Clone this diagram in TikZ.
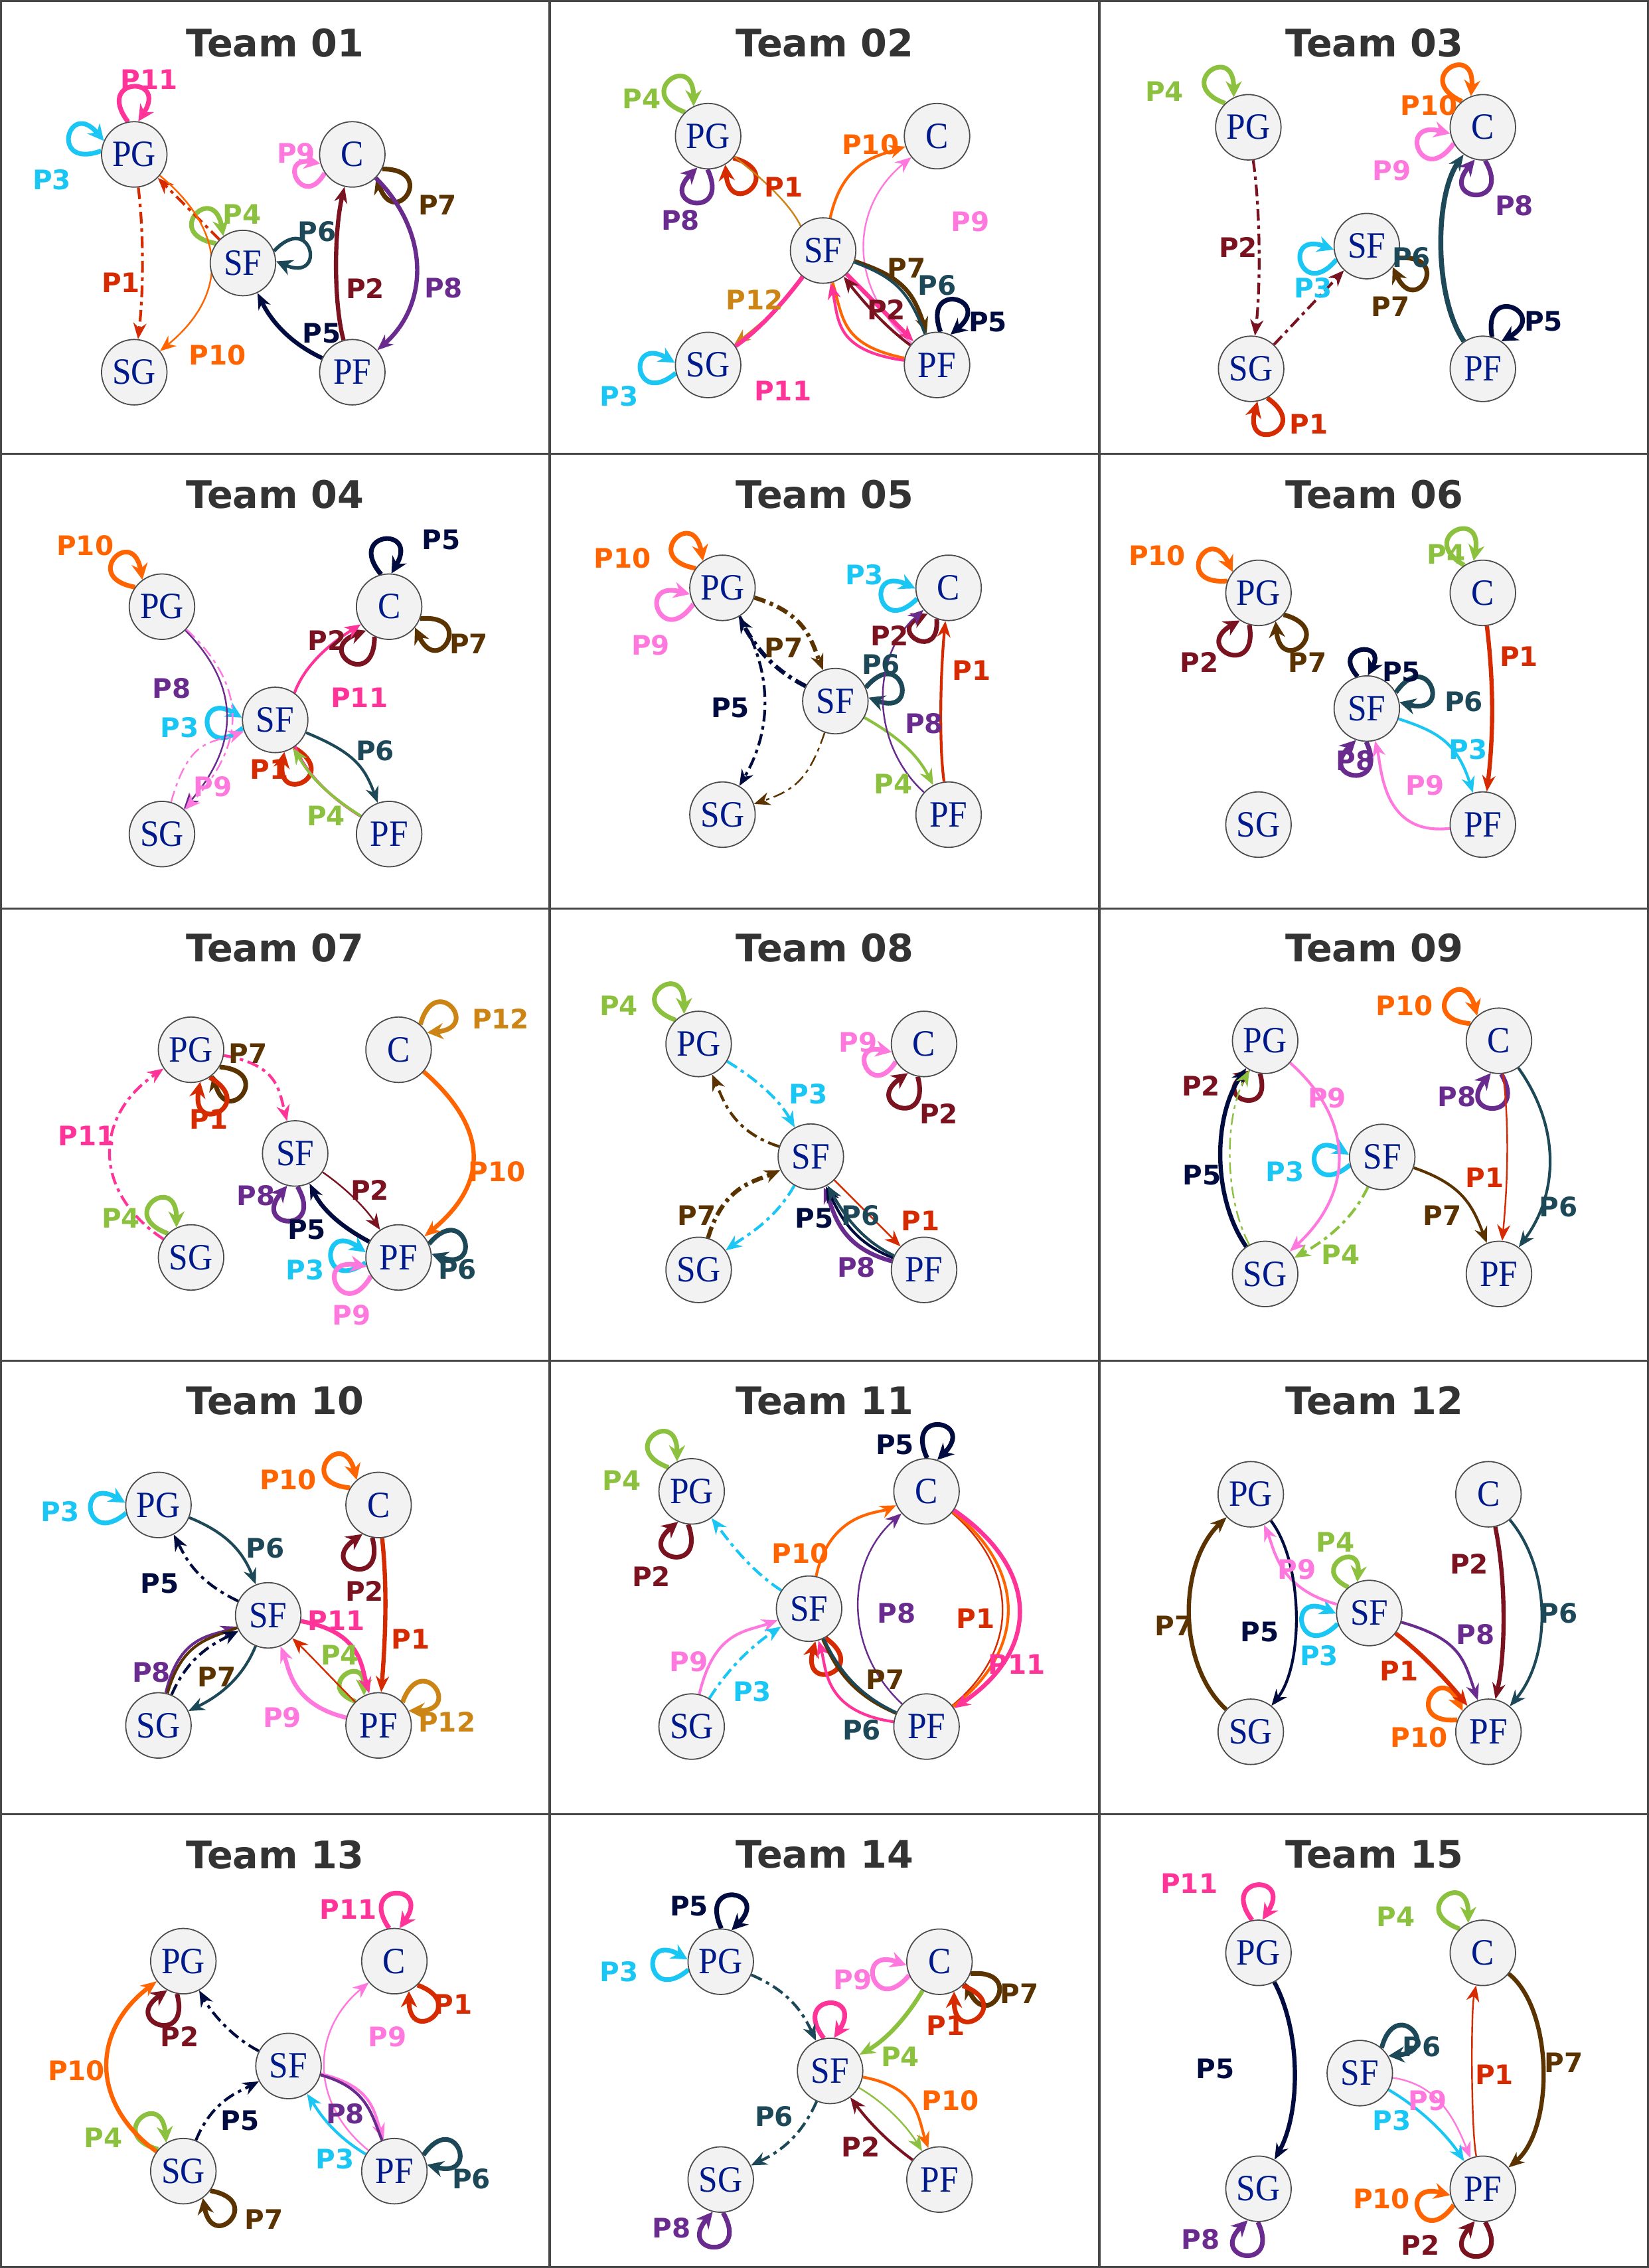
\documentclass[tikz,border=0pt]{standalone}
\usepackage{fontspec}
\usetikzlibrary{arrows.meta,shapes.geometric}
\setmainfont{Liberation Serif}
\newfontfamily\nodefont[FakeStretch=0.92]{Liberation Serif}
\newfontfamily\labfont{DejaVu Sans}
\definecolor{c1}{HTML}{D62A00}
\definecolor{c2}{HTML}{7A1220}
\definecolor{c3}{HTML}{1AC6F4}
\definecolor{c4}{HTML}{8CC13F}
\definecolor{c5}{HTML}{000B3F}
\definecolor{c6}{HTML}{1C4858}
\definecolor{c7}{HTML}{5A3300}
\definecolor{c8}{HTML}{6A2B8F}
\definecolor{c9}{HTML}{FF78DE}
\definecolor{c10}{HTML}{FF6400}
\definecolor{c11}{HTML}{FF3398}
\definecolor{c12}{HTML}{CC8514}
\definecolor{nodetext}{HTML}{001A8C}
\definecolor{nodefill}{HTML}{F2F2F2}
\definecolor{titlecol}{HTML}{333333}
\pgfdeclarelayer{bg}
\pgfsetlayers{bg,main}
\tikzset{
 pl/.style={ellipse, draw=black!70, line width=0.4pt, fill=nodefill, minimum width=22.4pt, minimum height=22.4pt, inner sep=0pt, text=nodetext, font=\nodefont\fontsize{12.7}{12.7}\selectfont},
 lab/.style={inner sep=0pt, font=\labfont\bfseries\fontsize{9.2}{9.2}\selectfont},
 ttl/.style={inner sep=0pt, text=titlecol, font=\labfont\bfseries\fontsize{13}{13}\selectfont},
 ar/.style={-{Stealth[length=5.5pt,width=4.5pt]}},
 lwa/.style={line width=0.55pt},
 lwb/.style={line width=0.95pt},
 lwc/.style={line width=1.45pt},
 lps/.style={-{Stealth[length=5.5pt,width=5.5pt]}},
 dd/.style={dash pattern=on 4pt off 1.6pt on 1.2pt off 1.6pt},
 gridline/.style={draw=black!72, line width=0.7pt},
 zy/.style={y=-0.09913pt}
}
\newcommand\lpr{19pt}
\newcommand\fiveplayers[5]{%
  \node[pl] (PG) at (#1) {PG};
  \node[pl] (C) at (#2) {C};
  \node[pl] (SF) at (#3) {SF};
  \node[pl] (SG) at (#4) {SG};
  \node[pl] (PF) at (#5) {PF};}
\newcommand\sloop[4][1.6pt]{%
  \pgfmathtruncatemacro\lpa{mod(#3+9+720,360)}%
  \pgfmathtruncatemacro\lpb{mod(#3-9+720,360)}%
  \draw[lps,line width=#1,#4] (#2.\lpa) .. controls +({#3+35}:\lpr) and +({#3-35}:\lpr) .. (#2.\lpb);}
\newcommand\plab[2]{\node[lab,c#1] (lab#1) at (#2) {P#1};}
\begin{document}
\begin{tikzpicture}[x=0.12pt,y=-0.12pt]
\useasboundingbox (0,0) rectangle (4704,6469);
\draw[gridline] (3,3) rectangle (4701,6466);
\draw[gridline] (1568,0) -- (1568,6469);
\draw[gridline] (3136,0) -- (3136,6469);
\foreach \yy in {1295,2591,3882,5174} {\draw[gridline] (0,\yy) -- (4704,\yy);}

% ---------------- Team 01
\begin{scope}[shift={(0,0)},zy,name prefix=A01-]
\node[ttl] (title) at (785,148) {Team 01};
\fiveplayers{383,533}{1005,533}{693,908}{383,1285}{1005,1285}
\begin{pgfonlayer}{bg}
\sloop{PG}{92}{c11}
\sloop{PG}{165}{c3}
\sloop{SF}{135}{c4}
\sloop[1.2pt]{SF}{12}{c6}
{\renewcommand\lpr{15pt}\sloop{C}{205}{c9}}
\sloop{C}{-35}{c7}
\draw[ar,lwb,dd,c1] (SF) -- (PG);
\draw[ar,lwb,dd,c1] (PG) .. controls (410,800) and (410,1000) .. (SG);
\draw[ar,lwa,c10] (PG) .. controls (650,800) and (650,1020) .. (SG);
\draw[ar,lwc,c2] (PF) .. controls (952,1050) and (952,800) .. (C);
\draw[ar,lwc,c8] (C) .. controls (1225,800) and (1225,1050) .. (PF);
\draw[ar,lwc,c5] (PF) .. controls (820,1180) and (770,1100) .. (SF);
\end{pgfonlayer}
\plab{11}{425,275}\plab{3}{148,620}\plab{4}{690,740}\plab{6}{905,800}
\plab{9}{845,530}\plab{7}{1248,708}\plab{1}{345,975}\plab{10}{620,1225}
\plab{2}{1042,995}\plab{8}{1265,995}\plab{5}{918,1150}
\end{scope}

% ---------------- Team 02
\begin{scope}[shift={(1568,0)},zy,name prefix=A02-]
\node[ttl] (title) at (785,148) {Team 02};
\fiveplayers{452,470}{1105,470}{780,865}{452,1260}{1105,1260}
\begin{pgfonlayer}{bg}
\sloop{PG}{125}{c4}
\sloop{PG}{-50}{c1}
\sloop{PG}{-100}{c8}
\sloop{PF}{75}{c5}
\sloop{SG}{185}{c3}
\draw[ar,lwa,c12] (PG) .. controls (800,800) and (800,930) .. (SG);
\draw[ar,lwb,c10] (SF) .. controls (835,560) and (930,540) .. (C);
\draw[ar,lwa,c9] (PF) .. controls (853,1000) and (853,720) .. (C);
\draw[lwc,c11] (SG) .. controls (620,1120) and (700,990) .. (SF);
\draw[ar,lwc,c11] (SF) -- (PF);
\draw[lwb,c10] (PF) .. controls (830,1190) and (838,1100) .. (SF);
\draw[ar,lwb,c11] (PF) .. controls (810,1210) and (825,1100) .. (SF);
\draw[ar,lwc,c7] (SF) .. controls (1000,955) and (1035,1000) .. (PF);
\draw[lwb,c6] (SF) .. controls (990,960) and (1025,1010) .. (PF);
\draw[ar,lwb,c2] (PF) .. controls (960,1130) and (900,1050) .. (SF);
\end{pgfonlayer}
\plab{4}{262,342}\plab{1}{668,645}\plab{8}{373,760}\plab{10}{915,500}
\plab{9}{1200,765}\plab{7}{1018,925}\plab{6}{1105,985}\plab{2}{960,1070}
\plab{5}{1250,1112}\plab{12}{585,1035}\plab{3}{198,1368}\plab{11}{665,1350}
\end{scope}

% ---------------- Team 03
\begin{scope}[shift={(3136,0)},name prefix=A03-]
\node[ttl] (title) at (785,122) {Team 03};
\fiveplayers{425,363}{1094,363}{763,702}{433,1052}{1094,1052}
\begin{pgfonlayer}{bg}
\sloop{PG}{125}{c4}
\sloop{C}{120}{c10}
\sloop{C}{200}{c9}
\sloop{C}{-95}{c8}
\sloop{SF}{-30}{c7}
\sloop{SF}{195}{c3}
\sloop{SG}{-70}{c1}
\sloop{PF}{65}{c5}
\draw[ar,lwb,dd,c2] (PG) .. controls (460,600) and (460,820) .. (SG);
\draw[ar,lwb,dd,c2] (SG) -- (SF);
\draw[ar,line width=1.7pt,c6] (PF) .. controls (955,850) and (955,560) .. (C);
\end{pgfonlayer}
\plab{4}{186,260}\plab{10}{941,301}\plab{9}{834,487}\plab{8}{1184,586}
\plab{2}{396,706}\plab{3}{610,822}\plab{7}{830,875}\plab{6}{890,735}
\plab{5}{1267,916}\plab{1}{598,1209}
\end{scope}

% ---------------- Team 04
\begin{scope}[shift={(0,1295)},zy,name prefix=A04-]
\node[ttl] (title) at (785,140) {Team 04};
\fiveplayers{462,527}{1110,527}{785,918}{462,1312}{1110,1312}
\begin{pgfonlayer}{bg}
\sloop{PG}{135}{c10}
\sloop{C}{95}{c5}
\sloop{C}{-30}{c7}
\sloop{C}{-125}{c2}
\sloop{SF}{185}{c3}
\sloop{SF}{-65}{c1}
\draw[ar,lwb,c11] (PF) .. controls (763,1050) and (763,790) .. (C);
\draw[ar,lwa,c8] (PG) .. controls (685,800) and (685,1000) .. (SG);
\draw[ar,lwa,dd,c9] (PG) .. controls (705,800) and (705,1000) .. (SG);
\draw[ar,lwa,dd,c9] (SG) .. controls (540,980) and (600,1000) .. (SF);
\draw[ar,lwb,c6] (SF) .. controls (1010,1030) and (1040,1080) .. (PF);
\draw[ar,lwb,c4] (PF) .. controls (900,1150) and (870,1080) .. (SF);
\end{pgfonlayer}
\plab{10}{243,315}\plab{5}{1258,297}\plab{2}{933,643}\plab{7}{1337,655}
\plab{8}{490,810}\plab{11}{1025,842}\plab{3}{513,945}\plab{6}{1070,1025}
\plab{1}{768,1088}\plab{9}{607,1148}\plab{4}{930,1250}
\end{scope}

% ---------------- Team 05
\begin{scope}[shift={(1568,1295)},zy,name prefix=A05-]
\node[ttl] (title) at (785,140) {Team 05};
\fiveplayers{493,462}{1138,462}{815,853}{493,1245}{1138,1245}
\begin{pgfonlayer}{bg}
\sloop{PG}{135}{c10}
\sloop{PG}{200}{c9}
\sloop{C}{190}{c3}
{\renewcommand\lpr{15pt}\sloop{C}{-120}{c2}}
\sloop{SF}{15}{c6}
\draw[ar,lwc,dd,c7] (PG) .. controls (730,550) and (745,640) .. (SF);
\draw[ar,lwc,dd,c5] (SF) .. controls (630,740) and (585,660) .. (PG);
\draw[ar,lwb,dd,c5] (PG) .. controls (636,750) and (636,950) .. (SG);
\draw[ar,lwa,dd,c7] (SF) .. controls (740,1120) and (700,1160) .. (SG);
\draw[ar,lwb,c4] (SF) .. controls (1000,980) and (1050,1040) .. (PF);
\draw[ar,lwa,c8] (PF) .. controls (915,1000) and (915,700) .. (C);
\draw[ar,lwb,c1] (PF) .. controls (1110,1000) and (1115,750) .. (C);
\end{pgfonlayer}
\plab{10}{208,360}\plab{3}{898,418}\plab{9}{288,660}\plab{2}{970,628}
\plab{7}{668,668}\plab{6}{945,727}\plab{1}{1203,748}\plab{5}{515,875}
\plab{8}{1068,930}\plab{4}{980,1140}
\end{scope}

% ---------------- Team 06
\begin{scope}[shift={(3136,1295)},name prefix=A06-]
\node[ttl] (title) at (785,116) {Team 06};
\fiveplayers{454,396}{1094,396}{763,726}{454,1057}{1094,1057}
\begin{pgfonlayer}{bg}
\sloop{PG}{150}{c10}
\sloop{PG}{-115}{c2}
\sloop{PG}{-50}{c7}
\sloop{C}{115}{c4}
{\renewcommand\lpr{14pt}\sloop{SF}{97}{c5}}
\sloop{SF}{20}{c6}
\sloop{SF}{-100}{c8}
\draw[ar,lwc,c1] (C) .. controls (1125,650) and (1125,800) .. (PF);
\draw[ar,lwb,c3] (SF) .. controls (960,790) and (1020,820) .. (PF);
\draw[ar,lwb,c9] (PF) .. controls (805,1090) and (805,891) .. (SF);
\end{pgfonlayer}
\plab{10}{165,289}\plab{4}{990,285}\plab{2}{285,594}\plab{7}{594,594}
\plab{1}{1197,578}\plab{5}{862,622}\plab{6}{1040,706}\plab{3}{1052,842}
\plab{8}{730,875}\plab{9}{929,945}
\end{scope}

% ---------------- Team 07
\begin{scope}[shift={(0,2591)},zy,name prefix=A07-]
\node[ttl] (title) at (785,137) {Team 07};
\fiveplayers{545,488}{1137,488}{842,846}{545,1205}{1137,1205}
\begin{pgfonlayer}{bg}
\sloop{PG}{-40}{c7}
\sloop{PG}{-65}{c1}
\sloop{C}{40}{c12}
\sloop{SF}{-95}{c8}
\sloop{SG}{125}{c4}
\sloop{PF}{15}{c6}
\sloop{PF}{180}{c3}
\sloop{PF}{205}{c9}
\draw[ar,lwb,dd,c11] (SG) .. controls (265,980) and (265,720) .. (PG);
\draw[ar,lwb,dd,c11] (PG) .. controls (790,540) and (795,620) .. (SF);
\draw[ar,lwc,c10] (C) .. controls (1395,760) and (1395,950) .. (PF);
\draw[ar,lwa,c2] (SF) .. controls (980,960) and (1040,1030) .. (PF);
\draw[ar,lwc,c5] (PF) .. controls (960,1090) and (915,1030) .. (SF);
\end{pgfonlayer}
\plab{12}{1428,382}\plab{7}{707,502}\plab{1}{596,727}\plab{11}{248,785}
\plab{10}{1418,910}\plab{2}{1055,973}\plab{8}{730,992}\plab{4}{345,1070}
\plab{5}{875,1110}\plab{3}{870,1248}\plab{6}{1305,1245}\plab{9}{1003,1405}
\end{scope}

% ---------------- Team 08
\begin{scope}[shift={(1568,2591)},zy,name prefix=A08-]
\node[ttl] (title) at (785,137) {Team 08};
\fiveplayers{425,468}{1068,468}{745,857}{425,1248}{1068,1248}
\begin{pgfonlayer}{bg}
\sloop{PG}{125}{c4}
{\renewcommand\lpr{16pt}\sloop{C}{203}{c9}}
\sloop{C}{-110}{c2}
\draw[ar,lwb,dd,c3] (PG) .. controls (590,590) and (655,660) .. (SF);
\draw[ar,lwb,dd,c7] (SF) .. controls (520,770) and (495,660) .. (PG);
\draw[ar,lwc,dd,c7] (SG) .. controls (495,960) and (580,945) .. (SF);
\draw[ar,lwb,dd,c3] (SF) .. controls (640,1080) and (560,1130) .. (SG);
\draw[ar,lwa,c1] (SF) -- (PF);
\draw[ar,lwc,c8] (PF) .. controls (830,1170) and (815,1060) .. (SF);
\draw[ar,lwb,c5] (PF) .. controls (860,1150) and (825,1050) .. (SF);
\draw[ar,lwb,c6] (PF) .. controls (880,1140) and (832,1040) .. (SF);
\end{pgfonlayer}
\plab{4}{197,335}\plab{9}{880,462}\plab{3}{738,640}\plab{2}{1110,710}
\plab{7}{420,1060}\plab{5}{755,1070}\plab{6}{888,1060}\plab{1}{1058,1078}
\plab{8}{875,1240}
\end{scope}

% ---------------- Team 09
\begin{scope}[shift={(3136,2591)},zy,name prefix=A09-]
\node[ttl] (title) at (785,137) {Team 09};
\fiveplayers{473,457}{1140,457}{807,858}{473,1262}{1140,1262}
\begin{pgfonlayer}{bg}
\sloop{C}{140}{c10}
{\renewcommand\lpr{16pt}\sloop{PG}{-108}{c2}}
\sloop{C}{-95}{c8}
\sloop{SF}{185}{c3}
\draw[ar,lwc,c5] (SG) .. controls (323,1000) and (323,720) .. (PG);
\draw[ar,lwa,dd,c4] (SG) .. controls (356,1000) and (356,720) .. (PG);
\draw[ar,lwb,c9] (PG) .. controls (728,730) and (728,980) .. (SG);
\draw[ar,lwb,dd,c4] (SF) .. controls (720,1080) and (640,1150) .. (SG);
\draw[ar,lwb,c7] (SF) .. controls (1040,955) and (1065,1030) .. (PF);
\draw[ar,lwa,c1] (C) .. controls (1170,750) and (1165,950) .. (PF);
\draw[ar,lwb,c6] (C) .. controls (1313,750) and (1313,980) .. (PF);
\end{pgfonlayer}
\plab{10}{870,337}\plab{2}{290,612}\plab{9}{650,655}\plab{8}{1020,650}
\plab{5}{293,920}\plab{3}{530,910}\plab{1}{1100,930}\plab{6}{1310,1030}
\plab{7}{978,1060}\plab{4}{688,1195}
\end{scope}

% ---------------- Team 10
\begin{scope}[shift={(0,3882)},zy,name prefix=A10-]
\node[ttl] (title) at (785,137) {Team 10};
\fiveplayers{452,497}{1080,497}{765,878}{452,1258}{1080,1258}
\begin{pgfonlayer}{bg}
\sloop{PG}{185}{c3}
\sloop{C}{140}{c10}
\sloop{C}{-110}{c2}
\sloop{PF}{35}{c12}
{\renewcommand\lpr{15pt}\sloop{PF}{125}{c4}}
\draw[ar,lwb,c6] (PG) .. controls (640,590) and (690,650) .. (SF);
\draw[ar,lwb,dd,c5] (SF) .. controls (560,760) and (530,680) .. (PG);
\draw[ar,lwb,c8] (SG) .. controls (510,950) and (600,950) .. (SF);
\draw[lwb,c7] (SG) .. controls (520,965) and (600,958) .. (SF);
\draw[ar,lwb,dd,c5] (SG) .. controls (540,1010) and (620,970) .. (SF);
\draw[ar,lwb,c6] (SF) .. controls (690,1100) and (620,1160) .. (SG);
\draw[ar,lwc,c11] (SF) .. controls (1030,935) and (1030,1050) .. (PF);
\draw[ar,lwc,c9] (PF) .. controls (830,1185) and (825,1060) .. (SF);
\draw[ar,lwa,c1] (PF) .. controls (950,1100) and (880,1010) .. (SF);
\draw[ar,lwc,c1] (C) .. controls (1105,780) and (1100,950) .. (PF);
\end{pgfonlayer}
\plab{3}{172,520}\plab{10}{822,410}\plab{6}{757,645}\plab{5}{455,768}
\plab{2}{1040,795}\plab{11}{960,895}\plab{1}{1172,960}\plab{4}{970,1015}
\plab{8}{432,1075}\plab{7}{618,1090}\plab{9}{805,1230}\plab{12}{1275,1245}
\end{scope}

% ---------------- Team 11
\begin{scope}[shift={(1568,3882)},zy,name prefix=A11-]
\node[ttl] (title) at (785,137) {Team 11};
\fiveplayers{405,450}{1075,450}{740,855}{405,1262}{1075,1262}
\begin{pgfonlayer}{bg}
\sloop{PG}{125}{c4}
\sloop{PG}{-105}{c2}
\sloop{C}{80}{c5}
\sloop{SF}{-70}{c1}
\draw[ar,lwb,dd,c3] (SF) .. controls (570,720) and (510,620) .. (PG);
\draw[ar,lwb,c10] (SF) .. controls (800,520) and (940,525) .. (C);
\draw[ar,lwa,c8] (PF) .. controls (841,1000) and (841,700) .. (C);
\draw[lwa,c1] (C) .. controls (1340,720) and (1340,1000) .. (PF);
\draw[lwb,c10] (C) .. controls (1361,720) and (1361,1000) .. (PF);
\draw[ar,lwc,c11] (C) .. controls (1400,720) and (1400,1000) .. (PF);
\draw[ar,lwb,c9] (SG) .. controls (470,930) and (560,935) .. (SF);
\draw[ar,lwb,dd,c3] (SG) .. controls (510,1060) and (580,980) .. (SF);
\draw[ar,lwb,c11] (PF) .. controls (780,1210) and (790,1060) .. (SF);
\draw[lwb,c7] (PF) .. controls (860,1150) and (815,1060) .. (SF);
\draw[lwb,c6] (PF) .. controls (875,1150) and (822,1060) .. (SF);
\end{pgfonlayer}
\plab{5}{985,288}\plab{4}{205,412}\plab{10}{715,665}\plab{2}{290,745}
\plab{8}{990,870}\plab{1}{1215,890}\plab{9}{397,1037}\plab{11}{1333,1048}
\plab{7}{957,1100}\plab{3}{578,1140}\plab{6}{890,1275}
\end{scope}

% ---------------- Team 12
\begin{scope}[shift={(3136,3882)},zy,name prefix=A12-]
\node[ttl] (title) at (785,137) {Team 12};
\fiveplayers{432,460}{1110,460}{770,870}{432,1280}{1110,1280}
\begin{pgfonlayer}{bg}
{\renewcommand\lpr{15pt}\sloop{SF}{120}{c4}}
\sloop{SF}{190}{c3}
\sloop{PF}{150}{c10}
\draw[ar,lwb,c9] (SF) .. controls (510,785) and (500,650) .. (PG);
\draw[ar,lwc,c7] (SG) .. controls (223,1050) and (223,700) .. (PG);
\draw[ar,lwb,c5] (PG) .. controls (583,700) and (583,1050) .. (SG);
\draw[ar,lwc,c1] (SF) .. controls (920,1010) and (990,1100) .. (PF);
\draw[ar,lwb,c8] (SF) .. controls (1030,960) and (1040,1030) .. (PF);
\draw[ar,lwc,c2] (C) .. controls (1160,750) and (1160,1000) .. (PF);
\draw[ar,lwb,c6] (C) .. controls (1290,720) and (1290,1020) .. (PF);
\end{pgfonlayer}
\plab{4}{673,625}\plab{2}{1055,700}\plab{9}{563,720}\plab{7}{213,915}
\plab{5}{458,935}\plab{6}{1310,870}\plab{8}{1073,945}\plab{3}{627,1018}
\plab{1}{855,1070}\plab{10}{912,1300}
\end{scope}

% ---------------- Team 13
\begin{scope}[shift={(0,5174)},zy,name prefix=A13-]
\node[ttl] (title) at (785,140) {Team 13};
\fiveplayers{523,508}{1125,508}{823,870}{523,1233}{1125,1233}
\begin{pgfonlayer}{bg}
\sloop{C}{90}{c11}
\sloop{C}{-55}{c1}
\sloop{PG}{-110}{c2}
\sloop{SG}{130}{c4}
\sloop{SG}{-45}{c7}
\sloop{PF}{20}{c6}
\draw[ar,lwc,c10] (SG) .. controls (259,1000) and (259,750) .. (PG);
\draw[ar,lwb,dd,c5] (SF) .. controls (660,770) and (600,680) .. (PG);
\draw[ar,lwb,dd,c5] (SG) .. controls (605,990) and (680,960) .. (SF);
\draw[ar,lwa,c9] (PF) .. controls (885,1000) and (885,750) .. (C);
\draw[ar,lwb,c9] (SF) .. controls (1060,940) and (1065,1020) .. (PF);
\draw[lwb,c8] (SF) .. controls (1045,945) and (1058,1030) .. (PF);
\draw[ar,lwb,c3] (PF) .. controls (940,1100) and (900,1010) .. (SF);
\end{pgfonlayer}
\plab{11}{993,328}\plab{1}{1293,657}\plab{2}{513,768}\plab{9}{1105,770}
\plab{10}{218,885}\plab{8}{985,1035}\plab{5}{685,1058}\plab{4}{295,1118}
\plab{3}{955,1190}\plab{6}{1345,1260}\plab{7}{753,1400}
\end{scope}

% ---------------- Team 14
\begin{scope}[shift={(1568,5174)},zy,name prefix=A14-]
\node[ttl] (title) at (785,140) {Team 14};
\fiveplayers{488,510}{1112,510}{800,887}{488,1262}{1112,1262}
\begin{pgfonlayer}{bg}
\sloop{PG}{80}{c5}
\sloop{PG}{185}{c3}
\sloop{SF}{92}{c11}
\sloop{C}{195}{c9}
\sloop{C}{-30}{c7}
\sloop{C}{-55}{c1}
\sloop{SG}{-95}{c8}
\draw[ar,lwb,dd,c6] (PG) .. controls (680,610) and (720,680) .. (SF);
\draw[ar,lwb,dd,c6] (SF) .. controls (715,1120) and (650,1170) .. (SG);
\draw[ar,lwc,c4] (C) .. controls (1020,700) and (960,780) .. (SF);
\draw[ar,lwb,c10] (SF) .. controls (1055,945) and (1050,1050) .. (PF);
\draw[ar,lwa,c4] (SF) .. controls (960,1000) and (1020,1080) .. (PF);
\draw[ar,lwb,c2] (PF) .. controls (940,1110) and (890,1030) .. (SF);
\end{pgfonlayer}
\plab{5}{398,318}\plab{3}{198,545}\plab{9}{865,572}\plab{7}{1340,620}
\plab{1}{1130,730}\plab{4}{1000,838}\plab{10}{1143,990}\plab{6}{640,1045}
\plab{2}{887,1150}\plab{8}{348,1430}
\end{scope}

% ---------------- Team 15
\begin{scope}[shift={(3136,5174)},name prefix=A15-]
\node[ttl] (title) at (785,116) {Team 15};
\fiveplayers{454,396}{1094,396}{743,739}{454,1069}{1094,1069}
\begin{pgfonlayer}{bg}
\sloop{PG}{92}{c11}
\sloop{C}{125}{c4}
\sloop{SF}{40}{c6}
\sloop{PF}{200}{c10}
\sloop{PF}{-95}{c2}
\sloop{SG}{-100}{c8}
\draw[ar,lwc,c5] (PG) .. controls (575,620) and (575,850) .. (SG);
\draw[ar,lwa,c9] (SF) .. controls (960,770) and (1010,860) .. (PF);
\draw[ar,lwb,c3] (SF) .. controls (900,830) and (980,900) .. (PF);
\draw[ar,lwa,c1] (PF) .. controls (1060,900) and (1060,560) .. (C);
\draw[ar,lwc,c7] (C) .. controls (1297,560) and (1297,900) .. (PF);
\end{pgfonlayer}
\plab{11}{256,198}\plab{4}{846,293}\plab{6}{920,664}\plab{7}{1325,710}
\plab{5}{330,726}\plab{1}{1127,743}\plab{9}{937,817}\plab{3}{834,875}
\plab{10}{805,1098}\plab{2}{916,1230}\plab{8}{289,1213}
\end{scope}
\end{tikzpicture}
\end{document}
